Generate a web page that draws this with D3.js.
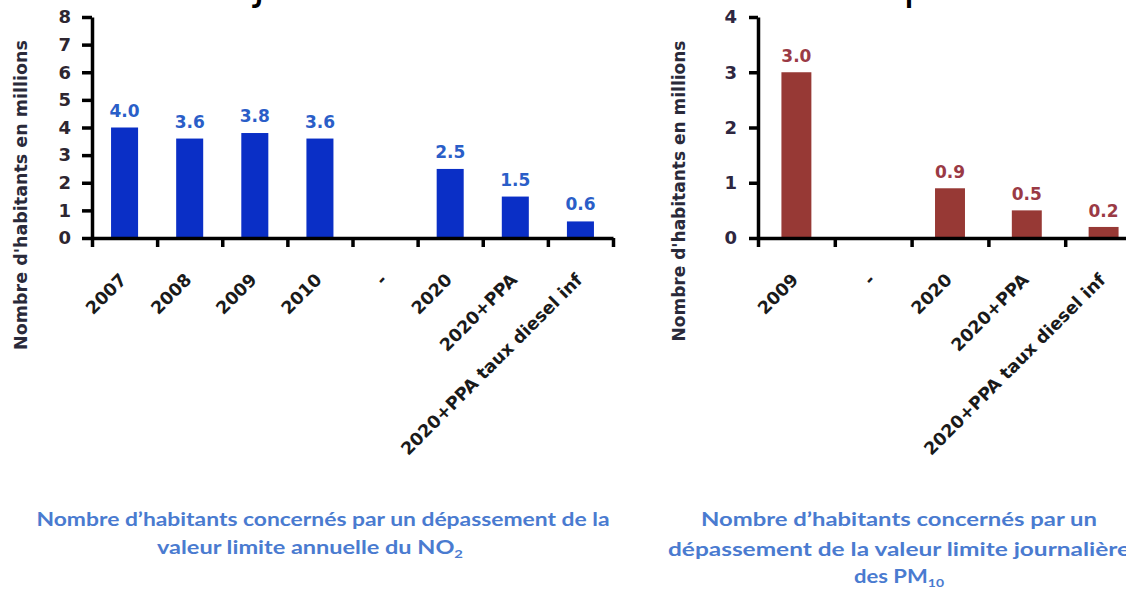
<!DOCTYPE html>
<html>
<head>
<meta charset="utf-8">
<script src="https://cdn.jsdelivr.net/npm/d3@7"></script>
<style>
  html, body { margin: 0; padding: 0; background: #fff; }
  svg { display: block; }
</style>
</head>
<body>
<svg id="chart" width="1126" height="590"></svg>
<script>
// ---------- data ----------
const no2Categories = ["2007", "2008", "2009", "2010", "-", "2020", "2020+PPA", "2020+PPA taux diesel inf"];
const no2Values = [4.0, 3.6, 3.8, 3.6, null, 2.5, 1.5, 0.6];
const no2Ticks = [0, 1, 2, 3, 4, 5, 6, 7, 8];

const pmCategories = ["2009", "-", "2020", "2020+PPA", "2020+PPA taux diesel inf"];
const pmValues = [3.0, null, 0.9, 0.5, 0.2];
const pmTicks = [0, 1, 2, 3, 4];

const yTitle = "Nombre d'habitants en millions";
const no2Caption = ["Nombre d’habitants concernés par un dépassement de la", "valeur limite annuelle du NO", "2"];
const pmCaption = ["Nombre d’habitants concernés par un", "dépassement de la valeur limite journalière", "des PM", "10"];

// ---------- drawing ----------
const svg = d3.select("#chart");
const FONT = "'DejaVu Sans', Verdana, sans-serif";
const CAP_FONT = "Lato, 'Open Sans', sans-serif";

// cropped title glyphs at the very top
svg.append("text").attr("x", 253).attr("y", -1).attr("font-family", FONT)
  .attr("font-size", 44).attr("fill", "#000").text("j");
svg.append("text").attr("x", 903).attr("y", -1).attr("font-family", FONT)
  .attr("font-size", 44).attr("fill", "#000").text("p");

function drawPanel(opts) {
  const { cats, vals, ticks, x0, x1, yTop, yBot, barColor, labelColor, pad, tickColor,
          titleX, titleY, titleSize, labelDy, tickSize, tickPad } = opts;
  const g = svg.append("g");
  const y = d3.scaleLinear().domain([d3.min(ticks), d3.max(ticks)]).range([yBot, yTop]);
  const x = d3.scaleBand().domain(cats).range([x0, x1]).paddingInner(pad).paddingOuter(pad / 2);
  const xb = d3.scaleLinear().domain([0, cats.length]).range([x0, x1]);

  // bars
  cats.forEach((c, i) => {
    const v = vals[i];
    if (v == null) return;
    g.append("rect")
      .attr("x", x(c)).attr("width", x.bandwidth())
      .attr("y", y(v)).attr("height", y(0) - y(v))
      .attr("fill", barColor);
    g.append("text")
      .attr("x", x(c) + x.bandwidth() / 2).attr("y", y(v) - labelDy)
      .attr("text-anchor", "middle")
      .attr("font-family", FONT).attr("font-weight", "bold").attr("font-size", 17)
      .attr("fill", labelColor)
      .text(d3.format(".1f")(v));
  });

  // y axis
  const ya = g.append("g").attr("transform", `translate(${x0},0)`)
    .call(d3.axisLeft(y).tickValues(ticks).tickFormat(d3.format("d"))
      .tickSize(tickSize).tickSizeOuter(0).tickPadding(tickPad));
  ya.select(".domain").attr("stroke", "#000").attr("stroke-width", 3.5);
  ya.selectAll(".tick line").attr("stroke", "#000").attr("stroke-width", 3.5);
  ya.selectAll(".tick text").attr("font-family", FONT).attr("font-weight", "bold")
    .attr("font-size", 18).attr("fill", tickColor);

  // x axis (ticks at category boundaries)
  const xa = g.append("g").attr("transform", `translate(0,${yBot})`)
    .call(d3.axisBottom(xb).tickValues(d3.range(cats.length + 1)).tickFormat("")
      .tickSize(9).tickSizeOuter(0));
  xa.select(".domain").attr("stroke", "#000").attr("stroke-width", 3.5);
  xa.selectAll(".tick line").attr("stroke", "#000").attr("stroke-width", 3.5);

  // category labels
  cats.forEach(c => {
    const cx = x(c) + x.bandwidth() / 2;
    g.append("text")
      .attr("transform", `translate(${cx + 3},${yBot + 43}) rotate(-45)`)
      .attr("text-anchor", "end")
      .attr("font-family", FONT).attr("font-weight", "bold").attr("font-size", 17.5)
      .attr("fill", "#1a1a1a")
      .text(c);
  });

  // y title
  g.append("text")
    .attr("transform", `translate(${titleX},${titleY}) rotate(-90)`)
    .attr("text-anchor", "middle")
    .attr("font-family", FONT).attr("font-weight", "bold").attr("font-size", titleSize)
    .attr("fill", "#2a2a3a")
    .text(yTitle);
}

drawPanel({
  cats: no2Categories, vals: no2Values, ticks: no2Ticks,
  x0: 92, x1: 613, yTop: 17, yBot: 238, pad: 0.585,
  barColor: "#0a2fc6", labelColor: "#2a5ec8", tickColor: "#2e2630",
  titleX: 27, titleY: 195, titleSize: 17.5, labelDy: 11, tickSize: 10, tickPad: 11
});

drawPanel({
  cats: pmCategories, vals: pmValues, ticks: pmTicks,
  x0: 758, x1: 1142, yTop: 17, yBot: 238, pad: 0.61,
  barColor: "#973935", labelColor: "#9a3a45", tickColor: "#2e2640",
  titleX: 685, titleY: 191, titleSize: 17, labelDy: 10, tickSize: 9, tickPad: 12
});

// captions
const capColor = "#4a7bd0";
function capLine(x, y, len, parts) {
  const t = svg.append("text").attr("x", x).attr("y", y).attr("text-anchor", "middle")
    .attr("font-family", CAP_FONT).attr("font-weight", "bold").attr("font-size", 19)
    .attr("fill", capColor);
  if (len) t.attr("textLength", len).attr("lengthAdjust", "spacingAndGlyphs");
  t.append("tspan").text(parts[0]);
  if (parts[1]) t.append("tspan").attr("font-size", 12).attr("dy", 4).text(parts[1]);
  return t;
}
capLine(323, 526, 573, [no2Caption[0]]);
capLine(310, 554, 306, [no2Caption[1], no2Caption[2]]);

capLine(899, 526, 396, [pmCaption[0]]);
capLine(899, 556, 462, [pmCaption[1]]);
capLine(899, 583, 90, [pmCaption[2], pmCaption[3]]);
</script>
</body>
</html>
